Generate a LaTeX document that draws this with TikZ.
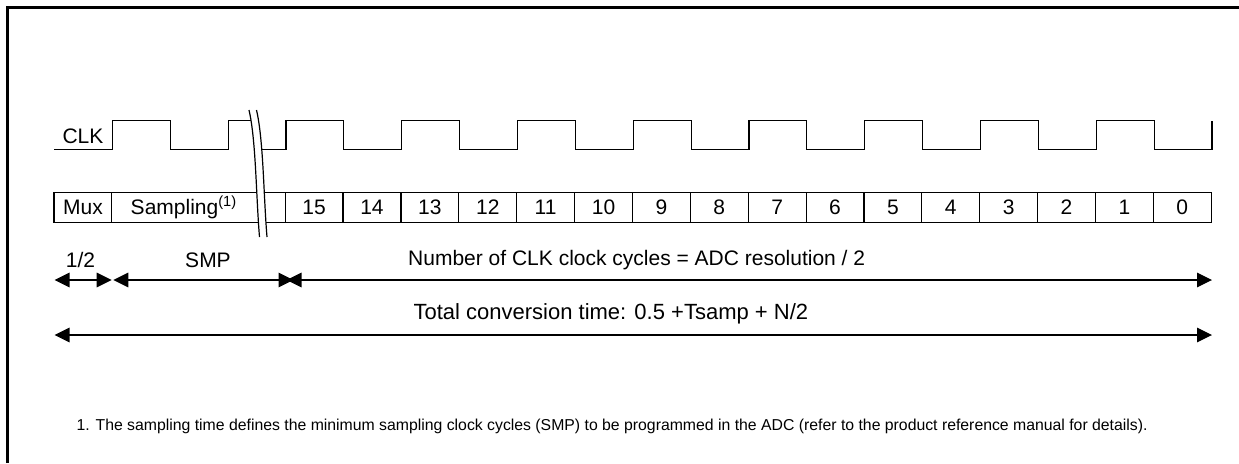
\documentclass[tikz,border=0pt]{standalone}
\usepackage{fontspec}
\setmainfont{Liberation Sans}
\usetikzlibrary{arrows.meta,positioning,calc}

\begin{document}
\begin{tikzpicture}[x=0.5pt, y=-0.5pt, line width=0.6pt,
    cell/.style={rectangle, draw, minimum width=28.94pt, minimum height=14.8pt,
        inner sep=0pt, outer sep=0pt, font=\fontsize{10.5}{12}\selectfont},
    lbl/.style={inner sep=0pt, font=\fontsize{10.5}{12}\selectfont},
    foot/.style={inner sep=0pt, font=\fontsize{7.9}{9}\selectfont},
    dim/.style={{Triangle[length=7.5pt,width=7.3pt]}-{Triangle[length=7.5pt,width=7.3pt]}}]
    \useasboundingbox (0,0) rectangle (1239,463);

    % Frame
    \draw[line width=1.15pt] (7.5,463) -- (7.5,7.5) -- (1239,7.5);

    % Clock
    \node[lbl, anchor=east] (clk) at (104,136.3) {CLK};
    \draw (54,149.3) -| (112.7,120.7) -| (170.6,149.3) -| (228.5,120.7) -- (258,120.7);
    \draw (258,149.3) \foreach \k in {0,...,7} {
        -| ({286+2*\k*57.875},120.7) -| ({286+(2*\k+1)*57.875},149.3)} -| (1212,120.7);

    % Conversion steps
    \node[cell, anchor=west] (mux) at (54,207.5) {Mux};
    \node[cell, right=0pt of mux, minimum width=86.65pt] (smp) {};
    \node[lbl] (smplbl) at (184,207.5) {Sampling\textsuperscript{(1)}};
    \node[cell, right=0pt of smp] (b15) {15};
    \foreach \v [evaluate=\v as \p using int(\v+1)] in {14,...,0}
        \node[cell, right=0pt of b\p] (b\v) {\v};

    % Break
    \fill[white] (249,110) .. controls (256,140) and (256,195) .. (259.5,237)
        -- (267,237) .. controls (263.5,195) and (263.5,140) .. (256.5,110) -- cycle;
    \draw (249,110) .. controls (256,140) and (256,195) .. (259.5,237);
    \draw (256.5,110) .. controls (263.5,140) and (263.5,195) .. (267,237);

    % Timing
    \coordinate (h0) at (54.5,280);
    \coordinate (h1) at (111.7,280);
    \coordinate (s0) at (113.3,280);
    \coordinate (s1) at (293.5,280);
    \coordinate (n0) at (286.5,280);
    \coordinate (n1) at (1212,280);
    \draw[dim] (h0) -- (h1);
    \draw[dim] (s0) -- (s1);
    \draw[dim] (n0) -- (n1);
    \node[lbl] (half) at (80.5,260) {1/2};
    \node[lbl] (smptxt) at (208,260) {SMP};
    \node[lbl] (num) at (636.7,260) {Number of CLK clock cycles = ADC resolution / 2};

    \coordinate (t0) at (54.5,335);
    \coordinate (t1) at (1212,335);
    \draw[dim] (t0) -- (t1);
    \node[lbl, anchor=west, font=\fontsize{11}{12}\selectfont] (total) at (413,314) {Total conversion time: 0.5 +Tsamp + N/2};

    % Note
    \node[foot, anchor=west] (note) at (76,426) {1. The sampling time defines the minimum sampling clock cycles (SMP) to be programmed in the ADC (refer to the product reference manual for details).};
\end{tikzpicture}
\end{document}
